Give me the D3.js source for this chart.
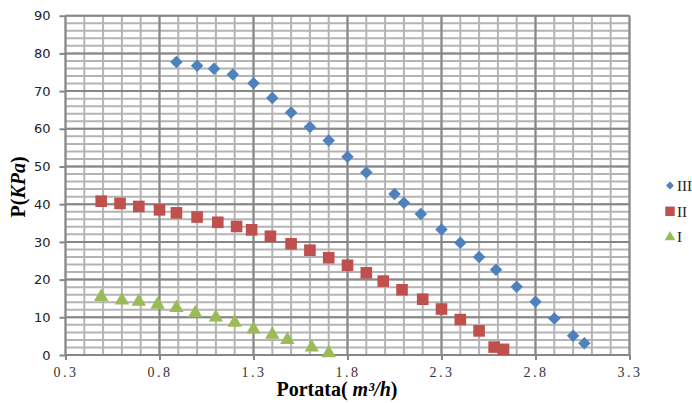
<!DOCTYPE html>
<meta charset="utf-8">
<style>

body {
  margin: 0;
  background: #fff;
}

.minor line {
  stroke: #b4b4b4;
  stroke-width: 2px;
}

.major line {
  stroke: #878787;
  stroke-width: 2px;
}

.axis path {
  display: none;
}

.axis line {
  stroke: #878787;
  stroke-width: 2px;
}

.y.axis text {
  font: 13px "DejaVu Sans", sans-serif;
  fill: #222;
}

.x.axis text {
  font: 14px "Liberation Serif", serif;
  letter-spacing: 2.5px;
  fill: #333;
}

.title {
  font-family: "Liberation Serif", serif;
  font-weight: bold;
  font-size: 20px;
  fill: #000;
}

.legend text {
  font: 15px "Liberation Serif", serif;
  fill: #222;
}

</style>
<svg width="692" height="403"></svg>
<script src="https://cdn.jsdelivr.net/npm/d3@7"></script>
<script>

// Portata (m3/h) and pressure (KPa)
var qIII = [0.89, 1.00, 1.09, 1.19, 1.30, 1.40, 1.50, 1.60, 1.70, 1.80, 1.90, 2.05, 2.10, 2.19, 2.30, 2.40, 2.50, 2.59, 2.70, 2.80, 2.90, 3.00, 3.06],
    pIII = [77.7, 76.7, 75.9, 74.4, 72.1, 68.2, 64.3, 60.5, 56.9, 52.6, 48.4, 42.7, 40.4, 37.4, 33.3, 29.8, 26.0, 22.6, 18.1, 14.1, 9.7, 5.1, 3.1];

var qII = [0.49, 0.59, 0.69, 0.80, 0.89, 1.00, 1.11, 1.21, 1.29, 1.39, 1.50, 1.60, 1.70, 1.80, 1.90, 1.99, 2.09, 2.20, 2.30, 2.40, 2.50, 2.58, 2.63],
    pII = [40.8, 40.2, 39.4, 38.5, 37.7, 36.6, 35.2, 34.1, 33.2, 31.5, 29.5, 27.8, 25.8, 23.8, 21.8, 19.6, 17.3, 14.8, 12.2, 9.4, 6.4, 2.1, 1.5];

var qI = [0.49, 0.60, 0.69, 0.79, 0.89, 0.99, 1.10, 1.20, 1.30, 1.40, 1.48, 1.61, 1.70],
    pI = [15.4, 14.5, 14.2, 13.4, 12.5, 11.1, 10.0, 8.6, 6.8, 5.4, 4.0, 2.0, 0.5];

var xTicks = [0.3, 0.8, 1.3, 1.8, 2.3, 2.8, 3.3],
    yTicks = [0, 10, 20, 30, 40, 50, 60, 70, 80, 90];

var seriesNames = ["III", "II", "I"];

var svg = d3.select("svg");

var x = d3.scaleLinear()
    .domain([0.3, 3.3])
    .range([65.5, 629.5]);

var y = d3.scaleLinear()
    .domain([0, 90])
    .range([355, 15.7]);

var minor = svg.append("g").attr("class", "minor");

minor.selectAll(".v")
    .data(x.ticks(30))
  .enter().append("line")
    .attr("x1", function(d) { return x(d); })
    .attr("x2", function(d) { return x(d); })
    .attr("y1", y(0))
    .attr("y2", y(90));

minor.selectAll(".h")
    .data(d3.range(0, 91, 2))
  .enter().append("line")
    .attr("x1", x(0.3))
    .attr("x2", x(3.3))
    .attr("y1", function(d) { return y(d); })
    .attr("y2", function(d) { return y(d); });

var major = svg.append("g").attr("class", "major");

major.selectAll(".v")
    .data(xTicks)
  .enter().append("line")
    .attr("x1", function(d) { return x(d); })
    .attr("x2", function(d) { return x(d); })
    .attr("y1", y(0))
    .attr("y2", y(90));

major.selectAll(".h")
    .data(yTicks)
  .enter().append("line")
    .attr("x1", x(0.3))
    .attr("x2", x(3.3))
    .attr("y1", function(d) { return y(d); })
    .attr("y2", function(d) { return y(d); });

svg.append("g")
    .attr("class", "y axis")
    .attr("transform", "translate(" + x(0.3) + ",0)")
    .call(d3.axisLeft(y).tickValues(yTicks).tickSize(6).tickPadding(9));

svg.append("g")
    .attr("class", "x axis")
    .attr("transform", "translate(0," + y(0) + ")")
    .call(d3.axisBottom(x).tickValues(xTicks).tickSize(5).tickPadding(7)
      .tickFormat(d3.format(".1f")));

// markers
var diamond = d3.symbol().type(d3.symbolDiamond2).size(100),
    square = d3.symbol().type(d3.symbolSquare).size(135),
    triangle = d3.symbol().type(d3.symbolTriangle).size(90);

function plot(qs, ps, sym, color) {
  svg.append("g").selectAll("path")
      .data(d3.zip(qs, ps))
    .enter().append("path")
      .attr("transform", function(d) { return "translate(" + x(d[0]) + "," + y(d[1]) + ")"; })
      .attr("d", sym)
      .attr("fill", color);
}

plot(qII, pII, square, "#c0504d");
plot(qI, pI, triangle, "#9bbb59");
plot(qIII, pIII, diamond, "#4f81bd");

// axis titles
var yt = svg.append("text")
    .attr("class", "title")
    .attr("text-anchor", "middle")
    .attr("transform", "translate(25,187) rotate(-90)");
yt.append("tspan").text("P(");
yt.append("tspan").attr("font-style", "italic").text("KPa");
yt.append("tspan").text(")");

var xt = svg.append("text")
    .attr("class", "title")
    .attr("text-anchor", "middle")
    .attr("x", 337)
    .attr("y", 396);
xt.append("tspan").text("Portata( ");
xt.append("tspan").attr("font-style", "italic").text("m³/h");
xt.append("tspan").text(")");

// legend
var legendSyms = [
  d3.symbol().type(d3.symbolDiamond2).size(40),
  d3.symbol().type(d3.symbolSquare).size(90),
  d3.symbol().type(d3.symbolTriangle).size(50)
];
var legendColors = ["#4f81bd", "#c0504d", "#9bbb59"];

var legend = svg.append("g")
    .attr("class", "legend")
    .selectAll("g")
    .data(seriesNames)
  .enter().append("g")
    .attr("transform", function(d, i) { return "translate(670," + (185.5 + i * 25.8) + ")"; });

legend.append("path")
    .attr("d", function(d, i) { return legendSyms[i](); })
    .attr("fill", function(d, i) { return legendColors[i]; });

legend.append("text")
    .attr("x", 7)
    .attr("dy", "0.35em")
    .text(function(d) { return d; });

</script>
